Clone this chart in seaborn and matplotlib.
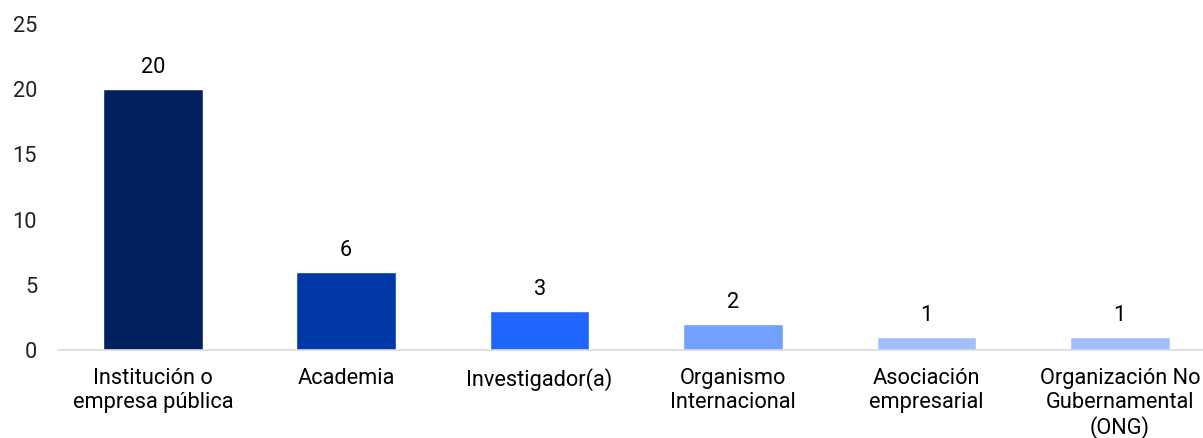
import matplotlib
matplotlib.use("Agg")
import matplotlib.pyplot as plt
import seaborn as sns
import pandas as pd

categories = ["Institución o\nempresa pública", "Academia", "Investigador(a)",
              "Organismo\nInternacional", "Asociación\nempresarial",
              "Organización No\nGubernamental\n(ONG)"]
values = [20, 6, 3, 2, 1, 1]
colors = ["#00215E", "#0038A8", "#1F66FF", "#71A0FF", "#A1BFFF", "#A1BFFF"]

df = pd.DataFrame({"cat": categories, "val": values})

sns.set_style("white")
plt.rcParams["font.family"] = ["Roboto", "DejaVu Sans"]

fig = plt.figure(figsize=(12.03, 4.38), dpi=100)
ax = fig.add_axes([58 / 1203, 1 - 350 / 438, 1 - 58 / 1203, (350 - 24) / 438])

sns.barplot(data=df, x="cat", y="val", hue="cat", palette=colors,
            legend=False, width=0.515, saturation=1, ax=ax)

for i, v in enumerate(values):
    ax.annotate(str(v), (i, v), xytext=(0, 8), textcoords="offset points",
                ha="center", va="bottom", fontsize=15.7, color="#000000")

ax.set_ylim(0, 25)
ax.set_xlim(-0.49, 1145 / 193.4 - 0.49)
ax.set_yticks([0, 5, 10, 15, 20, 25])
ax.set_xlabel("")
ax.set_ylabel("")
for s in ["top", "right", "left"]:
    ax.spines[s].set_visible(False)
ax.spines["bottom"].set_color("#D9D9D9")
ax.spines["bottom"].set_linewidth(1.2)
ax.tick_params(axis="both", length=0, labelsize=15.7, colors="#000000")
ax.tick_params(axis="y", pad=15)
ax.tick_params(axis="x", pad=13)
for lbl in ax.get_xticklabels():
    lbl.set_linespacing(1.17)
for lbl in ax.get_yticklabels():
    lbl.set_color("#222222")

fig.savefig("out.png", dpi=100)
